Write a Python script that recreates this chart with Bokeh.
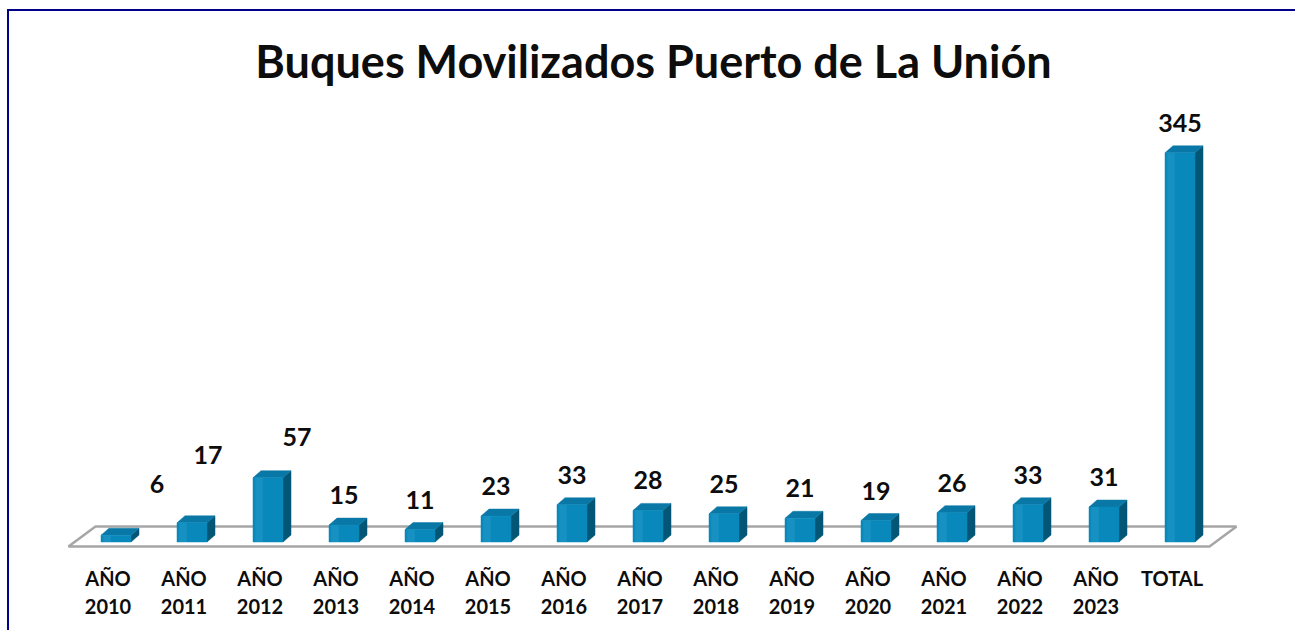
from bokeh.plotting import figure
from bokeh.models import ColumnDataSource, Range1d
from bokeh.embed import file_html
from bokeh.resources import INLINE
from bokeh.core.properties import value

# ---------------- data ----------------
categories = ["AÑO 2010", "AÑO 2011", "AÑO 2012", "AÑO 2013", "AÑO 2014",
              "AÑO 2015", "AÑO 2016", "AÑO 2017", "AÑO 2018", "AÑO 2019",
              "AÑO 2020", "AÑO 2021", "AÑO 2022", "AÑO 2023", "TOTAL"]
values = [6, 17, 57, 15, 11, 23, 33, 28, 25, 21, 19, 26, 33, 31, 345]
title_text = "Buques Movilizados Puerto de La Unión"

# labels that were moved by hand in the original (screen px; right / up)
label_shift_x = [41, 16, 29, 0, 0, 0, 0, 0, 0, 0, 0, 0, 0, 0, 0]
label_shift_y = [21, 38, 11, 0, 0, 0, 0, 0, 0, 0, 0, 0, 0, 0, 0]

# ---------------- layout constants (page pixels) ----------------
CANVAS_LEFT, CANVAS_TOP = 9, 11      # after margin + 2px border
W = 1297 - CANVAS_LEFT
H = 632 - CANVAS_TOP
CAT_PX = 76.0          # pixels per category
UNIT_PX = 1.128        # pixels per value unit
X0_PAGE = 107.5        # page x of first category tick
Y0_PAGE = 541.5        # page y of value 0
FRAME_TOP_PAGE = 98
TOP_BORDER = FRAME_TOP_PAGE - CANVAS_TOP
frame_left = CANVAS_LEFT
frame_right = CANVAS_LEFT + W
frame_top = FRAME_TOP_PAGE
frame_bottom = CANVAS_TOP + H

def px_x(d):   # pixel distance -> data x
    return d / CAT_PX

def px_y(d):   # pixel distance -> data y
    return d / UNIT_PX

x_start = (frame_left - X0_PAGE) / CAT_PX
x_end = (frame_right - X0_PAGE) / CAT_PX
y_start = -(frame_bottom - Y0_PAGE) / UNIT_PX
y_end = (Y0_PAGE - frame_top) / UNIT_PX

p = figure(width=W, height=H, output_backend="svg", toolbar_location=None,
           x_range=Range1d(x_start, x_end), y_range=Range1d(y_start, y_end),
           x_axis_location=None, y_axis_location=None,
           min_border_left=0, min_border_right=0, min_border_bottom=0,
           min_border_top=TOP_BORDER)
p.styles = {"border-left": "2px solid #00008b", "border-top": "2px solid #00008b",
            "margin-left": "7px", "margin-top": "9px"}
p.grid.visible = False
p.outline_line_color = None
p.background_fill_color = "white"
p.border_fill_color = "white"

p.title.text = title_text
p.title.align = "center"
p.title.text_font = "Lato"
p.title.text_font_style = "bold"
p.title.text_font_size = "45px"
p.title.text_color = "#0d0d0d"
p.title.standoff = 21

# ---------------- floor ----------------
floor_front_y = px_y(Y0_PAGE - 546)
floor_back_y = px_y(Y0_PAGE - 526)
fl = px_x(68 - X0_PAGE)
fr = px_x(1209 - X0_PAGE)
depth_x = px_x(27)
p.patch([fl, fr, fr + depth_x, fl + depth_x],
        [floor_front_y, floor_front_y, floor_back_y, floor_back_y],
        fill_color="white", line_color="#a6a6a6", line_width=2.5)

# ---------------- 3D bars ----------------
n = len(values)
idx = list(range(n))
bar_off = px_x(8)
bar_w = px_x(30)
dx = px_x(8)
dy = px_y(7)
centers = [i + bar_off for i in idx]

side_xs, side_ys, top_xs, top_ys = [], [], [], []
for c, v in zip(centers, values):
    l, r = c - bar_w / 2, c + bar_w / 2
    side_xs.append([r, r + dx, r + dx, r])
    side_ys.append([0, dy, v + dy, v])
    top_xs.append([l, r, r + dx, l + dx])
    top_ys.append([v, v, v + dy, v + dy])

p.patches(side_xs, side_ys, fill_color="#045676", line_color="#045676", line_width=0.5)
p.patches(top_xs, top_ys, fill_color="#0a78a6", line_color="#0a78a6", line_width=0.5)
p.vbar(x=centers, width=bar_w, top=values, bottom=0,
       fill_color="#0888bb", line_color="#0888bb", line_width=0.5)
# subtle highlight on left part of front face
p.vbar(x=[c - bar_w * 0.3 for c in centers], width=bar_w * 0.25, top=values, bottom=0,
       fill_color="#1f97c6", line_color=None, fill_alpha=0.6)

# ---------------- value labels ----------------
lab_src = ColumnDataSource(dict(
    x=[c + px_x(sx) for c, sx in zip(centers, label_shift_x)],
    y=[v + px_y(30 + sy) for v, sy in zip(values, label_shift_y)],
    t=[str(v) for v in values],
))
p.text(x="x", y="y", text="t", source=lab_src, text_font=value("Lato"),
       text_font_style="bold", text_font_size="25px", text_color="#0d0d0d",
       text_align="center", text_baseline="middle")

# ---------------- category labels ----------------
line1 = [c.split(" ")[0] for c in categories]
line2 = [c.split(" ")[1] if " " in c else "" for c in categories]
p.text(x=idx, y=[px_y(Y0_PAGE - 577)] * n, text=line1, text_font=value("Lato"),
       text_font_style="bold", text_font_size="20px", text_color="#0d0d0d",
       text_align="center", text_baseline="middle")
p.text(x=idx, y=[px_y(Y0_PAGE - 606)] * n, text=line2, text_font=value("Lato"),
       text_font_style="bold", text_font_size="20px", text_color="#0d0d0d",
       text_align="center", text_baseline="middle")

open("out.html", "w").write(file_html(p, INLINE))
